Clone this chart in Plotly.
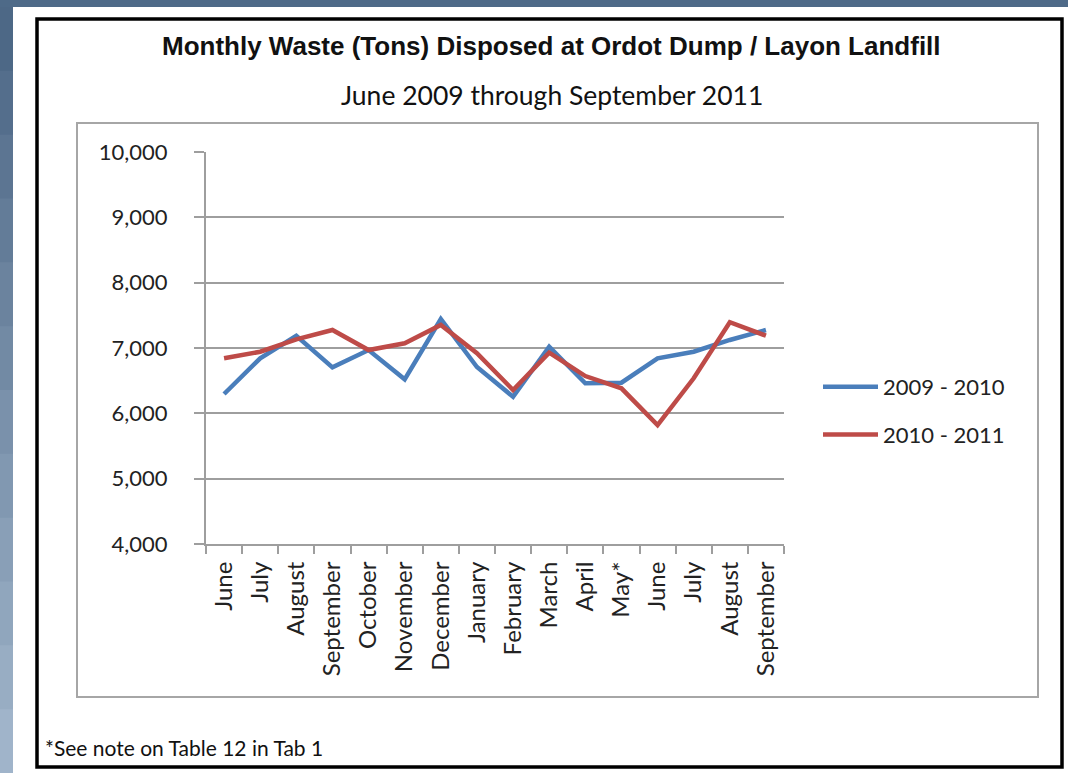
import plotly.graph_objects as go

months = ["June", "July", "August", "September", "October", "November", "December",
          "January", "February", "March", "April", "May*", "June ", "July ", "August ", "September "]
tick_text = ["June", "July", "August", "September", "October", "November", "December",
             "January", "February", "March", "April", "May*", "June", "July", "August", "September"]
series_2009_2010 = [6296, 6842, 7188, 6704, 6969, 6521, 7444, 6709, 6254, 7020, 6459, 6469, 6842, 6943, 7123, 7276]
series_2010_2011 = [6842, 6943, 7133, 7276, 6969, 7072, 7352, 6919, 6357, 6928, 6571, 6383, 5821, 6536, 7394, 7188]
y_ticks = [4000, 5000, 6000, 7000, 8000, 9000, 10000]
y_tick_text = ["4,000", "5,000", "6,000", "7,000", "8,000", "9,000", "10,000"]

W, H = 1068, 773
L, R, T, B = 206, 784, 152, 544  # plot area in pixels


def px(x):
    return (x - L) / (R - L)


def py(y):
    return (B - y) / (B - T)


BLUE = "#4a7ebb"
RED = "#be4b48"
GRID = "#9e9e9e"
FONT = "Lato"

fig = go.Figure()
fig.add_trace(go.Scatter(x=months, y=series_2009_2010, mode="lines", name="2009 - 2010",
                         line=dict(color=BLUE, width=4.5), legendgroup="a"))
fig.add_trace(go.Scatter(x=months, y=series_2010_2011, mode="lines", name="2010 - 2011",
                         line=dict(color=RED, width=4.5), legendgroup="b"))

shapes = []
# white page
shapes.append(dict(type="rect", xref="paper", yref="paper", x0=px(13), x1=px(1075), y0=py(7), y1=py(780),
                   fillcolor="white", line=dict(width=0), layer="below"))
# left gradient strip
top = (77, 104, 134)
bot = (160, 180, 202)
n = 12
for i in range(n):
    t = i / (n - 1)
    c = tuple(int(top[k] + (bot[k] - top[k]) * t) for k in range(3))
    y0 = 7 + (773 - 7) * i / n
    y1 = 7 + (773 - 7) * (i + 1) / n
    shapes.append(dict(type="rect", xref="paper", yref="paper", x0=px(-5), x1=px(13), y0=py(y0), y1=py(y1 + 1),
                       fillcolor="rgb(%d,%d,%d)" % c, line=dict(width=0), layer="below"))
# black frame
shapes.append(dict(type="rect", xref="paper", yref="paper", x0=px(37), x1=px(1062), y0=py(19), y1=py(767),
                   line=dict(color="black", width=3.5), fillcolor="rgba(0,0,0,0)", layer="below"))
# chart area border
shapes.append(dict(type="rect", xref="paper", yref="paper", x0=px(77), x1=px(1038), y0=py(123), y1=py(697),
                   line=dict(color="#a6a6a6", width=2), fillcolor="rgba(0,0,0,0)", layer="below"))

annotations = [
    dict(text="<b>Monthly Waste (Tons) Disposed at Ordot Dump / Layon Landfill</b>", xref="paper", yref="paper",
         x=px(551), y=py(46), xanchor="center", yanchor="middle", showarrow=False,
         font=dict(family="Liberation Sans", size=26, color="#111111")),
    dict(text="June 2009 through September 2011", xref="paper", yref="paper",
         x=px(552), y=py(95), xanchor="center", yanchor="middle", showarrow=False,
         font=dict(family=FONT, size=26.5, color="#111111")),
    dict(text="*See note on Table 12 in Tab 1", xref="paper", yref="paper",
         x=px(43), y=py(747), xanchor="left", yanchor="middle", showarrow=False,
         font=dict(family=FONT, size=21, color="#111111")),
]

fig.update_layout(
    width=W, height=H,
    margin=dict(l=L, r=W - R, t=T, b=H - B, pad=0),
    paper_bgcolor="#4e6a88",
    plot_bgcolor="rgba(0,0,0,0)",
    shapes=shapes,
    annotations=annotations,
    showlegend=True,
    legend=dict(x=px(818), y=py(411), xanchor="left", yanchor="middle",
                font=dict(family=FONT, size=22, color="#222222"),
                tracegroupgap=16, itemwidth=55, bgcolor="rgba(0,0,0,0)"),
    xaxis=dict(type="category", categoryarray=months, categoryorder="array",
               tickmode="array", tickvals=months, ticktext=tick_text,
               tickangle=-90, tickson="boundaries", ticks="outside", ticklen=8, tickwidth=2,
               tickcolor=GRID, showline=True, linecolor=GRID, linewidth=2, showgrid=False,
               tickfont=dict(family=FONT, size=24, color="#222222"), ticklabelstandoff=6,
               range=[-0.5, len(months) - 0.5], fixedrange=True),
    yaxis=dict(range=[4000, 10000], tickvals=y_ticks, ticktext=y_tick_text,
               ticks="outside", ticklen=10, tickwidth=2, tickcolor=GRID,
               showline=True, linecolor=GRID, linewidth=2,
               showgrid=True, gridcolor=GRID, gridwidth=2, zeroline=False,
               tickfont=dict(family=FONT, size=22, color="#222222"), ticklabelstandoff=22,
               fixedrange=True),
)

fig.write_html("out.html",
               config={"displayModeBar": False},
               post_script="document.body.style.margin='0';document.body.style.padding='0';"
                           "document.body.style.overflow='hidden';")
